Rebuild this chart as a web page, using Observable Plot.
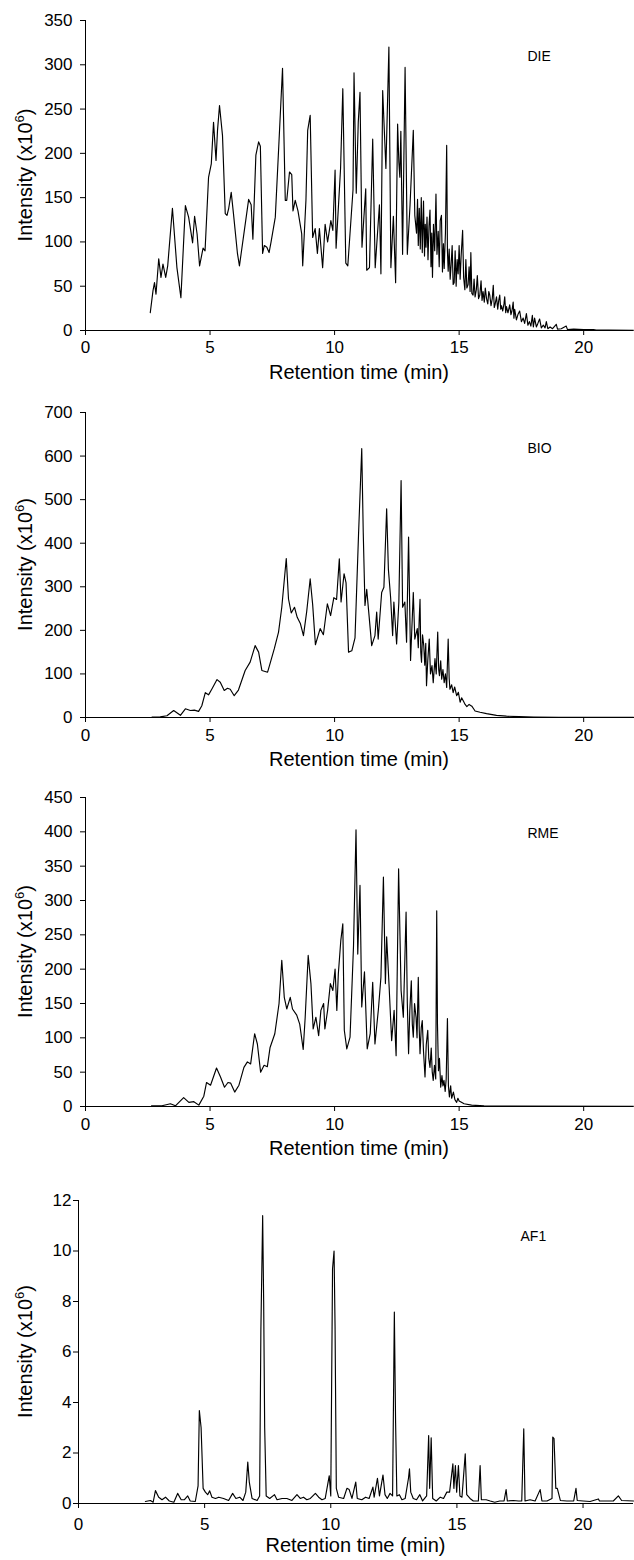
<!DOCTYPE html>
<html><head><meta charset="utf-8">
<script src="https://cdn.jsdelivr.net/npm/d3@7"></script>
<script src="https://cdn.jsdelivr.net/npm/@observablehq/plot@0.6"></script>
<style>
body{margin:0;background:#fff;}
#chart svg{display:block;}
</style></head><body><div id="chart"></div>
<script>
const xTicks = [0, 5, 10, 15, 20];
const dieTicks = [0, 50, 100, 150, 200, 250, 300, 350];
const bioTicks = [0, 100, 200, 300, 400, 500, 600, 700];
const rmeTicks = [0, 50, 100, 150, 200, 250, 300, 350, 400, 450];
const af1Ticks = [0, 2, 4, 6, 8, 10, 12];
const panelNames = ["DIE", "BIO", "RME", "AF1"];
const xTitle = "Retention time (min)";
const yTitle = "Intensity (x10";
const yTitleSup = "6";

// [retention time (min), intensity (x10^6)]
const die = [[2.6,20],[2.71,45],[2.77,54],[2.83,41],[2.94,81],[3.03,60],[3.11,75],[3.22,60],[3.3,73],[3.49,138],[3.67,71],[3.83,37],[4.01,141],[4.14,128],[4.3,99],[4.38,129],[4.48,109],[4.58,73],[4.72,93],[4.8,90],[4.94,173],[5.05,188],[5.14,235],[5.24,192],[5.3,226],[5.38,254],[5.5,220],[5.61,132],[5.68,130],[5.75,138],[5.85,156],[5.94,132],[6.1,87],[6.18,73],[6.55,148],[6.65,142],[6.72,103],[6.84,198],[6.95,213],[7.02,208],[7.11,87],[7.18,96],[7.28,94],[7.37,88],[7.45,100],[7.62,128],[7.75,203],[7.91,296],[8.02,147],[8.08,147],[8.19,179],[8.28,176],[8.33,135],[8.42,147],[8.53,135],[8.68,109],[8.72,73],[8.85,147],[8.92,226],[9.02,243],[9.12,105],[9.22,115],[9.31,87],[9.39,115],[9.52,71],[9.62,120],[9.72,100],[9.85,124],[9.93,113],[10.02,181],[10.06,93],[10.24,183],[10.33,273],[10.45,76],[10.53,73],[10.74,159],[10.78,291],[10.87,155],[10.95,235],[11.02,269],[11.1,94],[11.25,160],[11.29,68],[11.4,71],[11.53,216],[11.63,71],[11.8,142],[11.86,64],[11.93,271],[12.06,183],[12.18,320],[12.26,71],[12.36,129],[12.45,54],[12.53,233],[12.58,190],[12.62,173],[12.66,225],[12.73,86],[12.83,297],[12.92,86],[13.03,142],[13.16,226],[13.22,130],[13.29,110],[13.33,148],[13.36,96],[13.40,138],[13.44,92],[13.48,150],[13.52,88],[13.57,146],[13.61,84],[13.64,120],[13.67,94],[13.71,128],[13.75,80],[13.79,118],[13.83,136],[13.87,72],[13.90,110],[13.93,60],[13.97,120],[14.02,90],[14.07,154],[14.11,86],[14.16,112],[14.2,72],[14.24,124],[14.29,130],[14.33,66],[14.37,98],[14.4,70],[14.45,110],[14.5,209],[14.53,90],[14.56,67],[14.6,92],[14.64,58],[14.68,75],[14.72,96],[14.76,52],[14.8,54],[14.84,90],[14.88,50],[14.92,80],[14.96,64],[15.0,96],[15.04,58],[15.08,84],[15.14,113],[15.18,60],[15.23,46],[15.27,80],[15.31,48],[15.36,52],[15.4,72],[15.44,44],[15.47,88],[15.51,42],[15.56,40],[15.6,58],[15.64,38],[15.69,46],[15.73,62],[15.78,36],[15.83,40],[15.88,56],[15.92,34],[15.96,44],[16.01,32],[16.05,48],[16.1,36],[16.15,30],[16.19,44],[16.23,40],[16.28,28],[16.33,36],[16.37,51],[16.41,26],[16.44,29],[16.5,38],[16.55,24],[16.59,34],[16.63,40],[16.67,24],[16.7,28],[16.75,22],[16.8,30],[16.83,38],[16.87,20],[16.9,27],[16.96,20],[17.03,29],[17.08,18],[17.12,22],[17.17,32],[17.2,14],[17.23,24],[17.3,12],[17.36,18],[17.43,22],[17.5,10],[17.57,14],[17.63,8],[17.7,19],[17.76,6],[17.82,10],[17.88,5],[17.94,17],[17.98,4],[18.03,14],[18.1,4],[18.16,8],[18.23,13],[18.3,3],[18.38,6],[18.45,3],[18.5,10],[18.56,2],[18.65,4],[18.75,2],[18.9,7],[18.95,1.5],[19.1,2],[19.3,5],[19.35,1],[19.6,1.5],[20.0,1],[20.4,1],[20.5,0.5],[21,0.5],[22,0.3]];

const bio = [[2.67,0.7],[3.0,1.5],[3.27,4],[3.54,16],[3.81,5],[4.01,20],[4.21,16],[4.37,17],[4.54,14],[4.67,27],[4.81,57],[4.94,52],[5.08,66],[5.28,87],[5.41,81],[5.57,62],[5.7,67],[5.81,65],[5.97,50],[6.14,63],[6.41,108],[6.61,127],[6.81,165],[6.95,150],[7.08,108],[7.31,104],[7.38,118],[7.58,158],[7.75,196],[7.88,253],[8.06,365],[8.15,272],[8.26,240],[8.39,253],[8.5,230],[8.63,215],[8.75,188],[8.88,243],[9.02,318],[9.12,259],[9.23,167],[9.42,204],[9.55,190],[9.71,261],[9.84,234],[9.97,275],[10.08,271],[10.19,364],[10.26,265],[10.38,330],[10.46,309],[10.56,150],[10.69,153],[10.82,183],[10.96,418],[11.09,617],[11.15,425],[11.22,257],[11.29,294],[11.49,165],[11.62,188],[11.69,242],[11.75,180],[11.89,287],[11.98,299],[12.09,479],[12.16,340],[12.25,275],[12.33,188],[12.38,265],[12.49,169],[12.58,265],[12.67,544],[12.73,253],[12.82,265],[12.89,173],[12.97,414],[13.05,131],[13.16,287],[13.22,180],[13.32,204],[13.36,160],[13.4,230],[13.43,271],[13.46,150],[13.49,127],[13.53,190],[13.58,165],[13.62,120],[13.66,170],[13.69,73],[13.74,130],[13.8,180],[13.85,100],[13.91,119],[13.96,80],[14.03,135],[14.08,100],[14.14,196],[14.18,110],[14.21,96],[14.26,130],[14.3,88],[14.35,110],[14.4,80],[14.45,100],[14.5,69],[14.56,180],[14.6,90],[14.63,65],[14.7,75],[14.76,57],[14.82,70],[14.9,50],[14.97,58],[15.04,35],[15.1,45],[15.17,38],[15.24,30],[15.31,25],[15.4,30],[15.51,26],[15.58,20],[15.64,15],[15.84,12],[16.1,9],[16.5,5],[16.9,3],[17.4,2],[18,1],[19,0.5],[22,0.3]];

const rme = [[2.65,1],[3.07,1],[3.41,4],[3.61,1],[3.94,13],[4.15,6],[4.35,7],[4.55,2],[4.75,15],[4.86,35],[5.02,31],[5.26,56],[5.42,43],[5.58,28],[5.72,35],[5.83,34],[5.99,21],[6.16,31],[6.36,57],[6.5,65],[6.63,62],[6.79,106],[6.9,91],[7.03,50],[7.17,60],[7.3,58],[7.41,86],[7.6,106],[7.77,150],[7.88,213],[7.98,159],[8.08,142],[8.22,159],[8.31,142],[8.48,133],[8.6,120],[8.74,83],[8.82,130],[8.94,220],[9.05,179],[9.14,113],[9.25,130],[9.36,103],[9.45,140],[9.56,150],[9.61,113],[9.72,140],[9.83,179],[9.93,169],[10.02,200],[10.09,140],[10.15,193],[10.25,242],[10.33,266],[10.39,111],[10.49,84],[10.62,101],[10.76,234],[10.86,403],[10.93,222],[11.02,322],[11.09,145],[11.2,196],[11.31,84],[11.43,106],[11.53,181],[11.62,91],[11.76,142],[11.86,188],[11.96,334],[12.04,179],[12.09,247],[12.19,174],[12.29,96],[12.39,140],[12.47,74],[12.57,346],[12.67,169],[12.76,130],[12.87,283],[12.92,150],[12.97,77],[13.02,140],[13.08,183],[13.12,120],[13.16,101],[13.21,150],[13.27,130],[13.31,100],[13.36,188],[13.4,110],[13.43,77],[13.48,115],[13.52,125],[13.57,80],[13.63,43],[13.68,90],[13.74,111],[13.78,70],[13.83,57],[13.88,85],[13.92,50],[13.96,38],[14.01,60],[14.06,40],[14.1,285],[14.13,120],[14.17,52],[14.21,70],[14.26,28],[14.31,45],[14.35,30],[14.39,38],[14.44,22],[14.48,40],[14.53,128],[14.57,30],[14.61,14],[14.66,30],[14.7,12],[14.77,21],[14.83,10],[14.9,6],[14.95,12],[15.0,8],[15.2,4],[15.5,2],[16,1],[17,0.5],[22,0.3]];

const af1 = [[2.65,0.08],[2.85,0.12],[2.96,0.05],[3.05,0.51],[3.18,0.25],[3.31,0.15],[3.45,0.25],[3.6,0.1],[3.78,0.05],[3.93,0.4],[4.07,0.15],[4.2,0.15],[4.33,0.3],[4.43,0.1],[4.63,0.08],[4.74,0.7],[4.79,3.68],[4.86,3.0],[4.94,0.6],[5.03,0.45],[5.12,0.35],[5.2,0.5],[5.29,0.25],[5.43,0.2],[5.56,0.25],[5.75,0.2],[5.95,0.12],[6.11,0.4],[6.24,0.2],[6.39,0.25],[6.52,0.12],[6.63,0.45],[6.71,1.64],[6.77,0.85],[6.88,0.2],[7.08,0.12],[7.18,0.3],[7.23,6.9],[7.3,11.4],[7.34,8.0],[7.38,3.0],[7.44,0.3],[7.58,0.2],[7.77,0.35],[7.87,0.15],[8.07,0.2],[8.26,0.2],[8.46,0.12],[8.66,0.35],[8.79,0.2],[8.92,0.25],[9.05,0.15],[9.19,0.2],[9.39,0.4],[9.52,0.25],[9.65,0.15],[9.78,0.2],[9.94,1.1],[10.0,0.3],[10.07,9.3],[10.13,10.0],[10.17,7.0],[10.22,0.6],[10.31,0.25],[10.51,0.2],[10.64,0.6],[10.73,0.55],[10.84,0.2],[10.99,0.85],[11.05,0.2],[11.23,0.15],[11.38,0.25],[11.52,0.2],[11.67,0.65],[11.72,0.25],[11.85,1.0],[11.93,0.3],[12.07,1.13],[12.15,0.35],[12.24,0.2],[12.35,0.4],[12.45,0.3],[12.5,5.5],[12.52,7.58],[12.57,3.2],[12.62,0.3],[12.72,0.35],[12.82,0.15],[12.95,0.2],[13.08,1.0],[13.12,1.37],[13.17,0.45],[13.27,0.2],[13.4,0.15],[13.53,0.35],[13.64,0.1],[13.8,0.3],[13.88,2.69],[13.92,0.6],[13.98,2.6],[14.04,0.2],[14.18,0.1],[14.34,0.25],[14.47,0.2],[14.6,0.45],[14.71,0.45],[14.84,1.57],[14.88,0.6],[14.94,1.5],[14.99,0.45],[15.06,1.5],[15.12,0.3],[15.2,0.25],[15.33,1.97],[15.39,0.35],[15.52,0.2],[15.65,0.1],[15.85,0.1],[15.92,1.5],[15.97,0.15],[16.16,0.15],[16.32,0.1],[16.5,0.05],[16.7,0.1],[16.87,0.1],[16.95,0.55],[17.0,0.1],[17.24,0.12],[17.44,0.1],[17.57,0.1],[17.65,2.96],[17.7,0.1],[17.9,0.15],[18.1,0.1],[18.3,0.55],[18.37,0.1],[18.57,0.1],[18.77,0.2],[18.8,2.63],[18.85,2.57],[18.92,0.6],[18.98,0.6],[19.1,0.12],[19.36,0.1],[19.63,0.1],[19.72,0.6],[19.77,0.12],[20.01,0.1],[20.28,0.08],[20.61,0.18],[20.65,0.1],[20.94,0.1],[21.2,0.1],[21.4,0.3],[21.53,0.12],[22.0,0.1]];

const FONT = "'Liberation Sans', Arial, Helvetica, sans-serif";

function panel(cfg) {
  const {data, name, yMax, yTicks, height, marginTop, marginBottom, marginLeft, tickPadY, tickPadX} = cfg;
  const svg = Plot.plot({
    width: 634, height, marginTop, marginBottom, marginLeft, marginRight: 1,
    style: {fontFamily: FONT, fontSize: "17px", color: "#000", background: "#fff"},
    x: {domain: [0, 22]},
    y: {domain: [0, yMax]},
    marks: [
      Plot.line(data, {x: d => d[0], y: d => d[1], stroke: "#000", strokeWidth: 1.15}),
      Plot.ruleY([0], {stroke: "#000", strokeWidth: 1}),
      Plot.ruleX([0], {stroke: "#000", strokeWidth: 1}),
      Plot.axisX({ticks: xTicks, tickSize: 5, tickPadding: tickPadX, label: null, fontSize: 17}),
      Plot.axisY({ticks: yTicks, tickSize: 5, tickPadding: tickPadY, label: null, fontSize: 17}),
      Plot.text([name], {text: d => d, frameAnchor: "top-left", dx: 442, dy: 31, textAnchor: "start", lineAnchor: "top", fontSize: 14})
    ]
  });
  const s = d3.select(svg);
  const cy = marginTop + (height - marginTop - marginBottom) / 2;
  const t = s.append("text")
    .attr("transform", `translate(32,${cy}) rotate(-90)`)
    .attr("text-anchor", "middle")
    .attr("fill", "#000")
    .style("font-size", "20px");
  t.append("tspan").text(yTitle);
  t.append("tspan").attr("dy", -8).style("font-size", "13px").text(yTitleSup);
  t.append("tspan").attr("dy", 8).text(")");
  s.append("text")
    .attr("x", (marginLeft + 633) / 2)
    .attr("y", height - marginBottom + 49)
    .attr("text-anchor", "middle")
    .attr("fill", "#000")
    .style("font-size", "20px")
    .text(xTitle);
  return svg;
}

const root = document.getElementById("chart");
root.appendChild(panel({data: die, name: panelNames[0], yMax: 350, yTicks: dieTicks, height: 390, marginTop: 20, marginBottom: 60, marginLeft: 85, tickPadY: 8, tickPadX: 5}));
root.appendChild(panel({data: bio, name: panelNames[1], yMax: 700, yTicks: bioTicks, height: 387, marginTop: 22, marginBottom: 60, marginLeft: 85, tickPadY: 8, tickPadX: 6}));
root.appendChild(panel({data: rme, name: panelNames[2], yMax: 450, yTicks: rmeTicks, height: 389, marginTop: 20, marginBottom: 60, marginLeft: 85, tickPadY: 8, tickPadX: 6}));
root.appendChild(panel({data: af1, name: panelNames[3], yMax: 12, yTicks: af1Ticks, height: 394, marginTop: 34, marginBottom: 57, marginLeft: 78, tickPadY: 2, tickPadX: 9}));
</script></body></html>
